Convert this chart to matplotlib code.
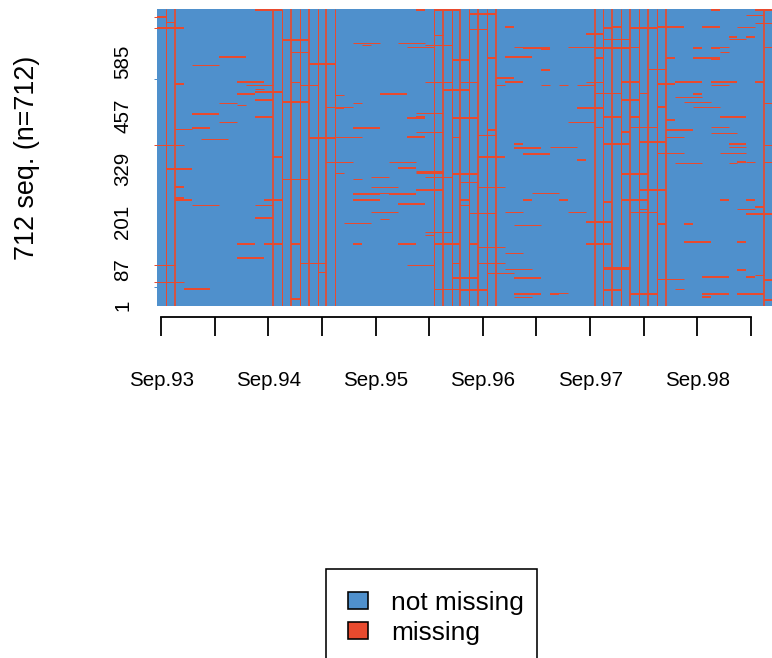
import matplotlib
matplotlib.use("Agg")
import matplotlib.pyplot as plt
from matplotlib.patches import Patch, Rectangle

plt.rcParams['font.family'] = ['Liberation Sans', 'DejaVu Sans']

n_seq = 712
y_tick_rows = [1, 87, 201, 329, 457, 585]
x_tick_months = [0.5, 6.5, 12.5, 18.5, 24.5, 30.5, 36.5, 42.5, 48.5, 54.5, 60.5, 66.5]
x_tick_labels = ['Sep.93', '', 'Sep.94', '', 'Sep.95', '', 'Sep.96', '', 'Sep.97', '', 'Sep.98', '']
state_labels = ['not missing', 'missing']
state_colors = ['#4F90CC', '#E84A2E']

# months missing for (nearly) every sequence
months_thin = [1, 14, 16, 18, 20, 31, 33, 35, 37, 50, 52, 54, 56]
months_thick = [2, 13, 15, 17, 19, 32, 34, 36, 38, 49, 51, 53, 55, 57, 68]

# (row, first month, last month) of missing spells
spells_thin = [
    (682,1,2),(649,31,32),(630,22,25),(630,27,30),(625,23,24),(625,30,33),(620,28,31),(610,15,17),
    (577,4,7),(538,15,16),(538,30,33),(538,34,36),(529,10,13),(529,16,18),(519,11,12),(505,20,21),
    (486,7,9),(486,22,23),(481,9,10),(476,19,22),(462,29,32),(442,7,9),(423,2,4),(418,29,32),
    (404,20,23),(404,33,34),(399,5,8),(385,0,3),(346,19,22),(346,26,29),
    (318,20,21),(308,24,26),(308,30,33),(303,14,17),(303,22,23),(298,34,36),(284,24,27),(270,24,26),
    (241,4,7),(241,11,13),(241,34,35),(226,24,27),(207,25,26),(198,21,24),(178,30,33),(169,30,31),
    (102,16,19),(102,33,34),(97,0,2),(97,28,31),(82,18,19),(58,0,3),(39,31,34),
    (697,66,68),(678,67,69),(668,65,67),(663,35,37),(639,50,53),(639,64,66),(620,40,42),(620,46,49),
    (620,53,54),(620,62,64),(620,68,69),(610,63,64),(567,55,57),(538,48,50),(529,38,39),(529,43,44),
    (529,45,46),(529,47,49),(529,62,64),(510,49,52),(510,54,55),(500,58,61),(490,59,62),(486,68,69),
    (476,60,63),(442,46,49),(428,49,50),(428,53,56),(428,62,64),(414,62,65),(409,36,38),(404,57,59),
    (385,68,69),(380,44,47),(380,64,66),(366,56,59),(366,63,66),(346,68,69),(344,66,67),(342,58,61),
    (342,64,65),(284,36,39),(270,42,45),(231,54,55),(231,65,67),(226,39,41),(226,46,48),(226,53,56),
    (222,35,38),(193,40,43),(140,36,39),(126,39,41),(102,36,39),(87,39,42),(78,37,40),(73,67,68),
    (63,56,59),(39,58,59),(30,44,46),(20,40,42),
]
spells_thick = [
    (709,11,14),(709,29,30),(709,31,34),(694,0,1),(666,0,3),(637,14,17),(598,7,10),(589,33,35),
    (579,17,20),(536,9,12),(531,2,3),(517,32,35),(512,11,14),(509,26,28),(507,9,11),(507,25,28),
    (493,11,13),(488,14,17),(474,20,21),(459,4,7),(454,11,13),(452,29,30),(450,28,30),(450,33,36),
    (426,4,6),(426,22,25),(406,28,30),(402,17,20),(358,13,14),(330,27,29),(327,1,4),
    (315,33,36),(315,52,55),(286,2,3),(277,29,32),(267,22,25),(267,26,29),(258,2,3),(253,2,4),
    (253,12,14),(253,22,25),(253,34,35),(243,27,30),(210,11,13),(147,9,11),(147,12,14),(147,15,16),
    (147,22,23),(147,27,29),(147,31,34),(114,9,12),(66,33,36),(41,3,6),(37,34,37),(17,15,16),
    (709,62,63),(709,67,69),(699,35,38),(670,39,40),(670,51,52),(670,56,59),(670,61,63),(666,50,51),
    (666,53,56),(651,48,50),(646,64,65),(646,66,67),(618,41,44),(618,49,53),(618,60,61),(618,62,63),
    (615,43,44),(598,39,42),(594,37,38),(594,49,50),(594,57,58),(594,60,63),(591,62,63),(565,43,44),
    (546,38,40),(536,39,41),(536,52,54),(536,58,61),(536,62,65),(536,67,68),(531,56,58),(507,60,61),
    (493,52,54),(478,56,57),(474,47,50),(454,50,52),(454,53,54),(454,63,66),(445,57,58),(421,37,38),
    (421,57,60),(416,52,53),(392,54,57),(387,40,41),(387,50,53),(387,64,66),(378,40,43),(363,41,44),
    (358,36,39),(349,47,48),(344,65,66),(277,54,57),(253,41,42),(253,45,46),(253,52,55),(253,63,64),
    (253,66,67),(248,50,51),(238,67,68),(219,66,69),(200,48,51),(195,56,57),(195,59,60),(152,59,62),
    (152,65,66),(147,35,36),(147,48,51),(85,65,66),(70,61,64),(70,66,67),(66,40,43),(61,68,69),
    (37,50,52),(27,40,43),(27,44,45),(27,53,56),(27,61,64),(27,65,68),(22,61,62),(13,68,69),
]
spells_widest = [(320,29,32),(90,50,53)]

# short overhangs left of the first month
overhang_missing_rows = [694, 666, 385, 97, 58]
overhang_other_rows = [543, 46]

W, H = 772, 658
PX = 72 / 100
fig = plt.figure(figsize=(W / 100, H / 100), dpi=100)
left, right, top, bottom = 156.7, 772, 9, 305.67
ax = fig.add_axes([left / W, 1 - bottom / H, (right - left) / W, (bottom - top) / H])
ax.set_facecolor(state_colors[0])
ax.set_xlim(0, (right - left) / 8.935)
ax.set_ylim(0, n_seq)

blue, red = state_colors
ax.vlines(months_thin, 0, n_seq, color=red, lw=1.0 * PX, snap=True)
ax.vlines(months_thick, 0, n_seq, color=red, lw=1.7 * PX, snap=True)
for spells, width in ((spells_thin, 1.0), (spells_thick, 2.0), (spells_widest, 3.0)):
    rows = [s[0] for s in spells]
    starts = [s[1] for s in spells]
    ends = [s[2] for s in spells]
    ax.hlines(rows, starts, ends, color=red, lw=width * PX, snap=True)
ax.hlines(overhang_missing_rows, -0.35, 0, color=red, lw=1.0 * PX, clip_on=False, snap=True)
ax.hlines(overhang_other_rows, -0.35, 0, color=blue, lw=1.0 * PX, clip_on=False, snap=True)

for s in ('top', 'right', 'left'):
    ax.spines[s].set_visible(False)
sp = ax.spines['bottom']
sp.set_position(('outward', 11.6 * PX))
sp.set_bounds(x_tick_months[0], x_tick_months[-1])
sp.set_linewidth(1.8 * PX)

ax.set_xticks(x_tick_months)
ax.set_xticklabels(x_tick_labels, fontsize=14.8)
ax.tick_params(axis='x', length=19.4 * PX, width=1.8 * PX, pad=34 * PX)
ax.set_yticks([r - 0.5 for r in y_tick_rows])
ax.set_yticklabels([str(r) for r in y_tick_rows], rotation=90, va='center', fontsize=14.8)
ax.tick_params(axis='y', length=0, pad=24.5 * PX)

fig.text(27 / W, 1 - 158 / H, '712 seq. (n=712)', rotation=90, fontsize=19.4,
         ha='center', va='center')

handles = [Patch(facecolor=c, edgecolor='black', linewidth=1.6 * PX) for c in state_colors]
fs = 18.9
em = fs / PX
leg = fig.legend(handles, state_labels, loc='upper left',
                 bbox_to_anchor=(325.7 / W, 1 - 569 / H), borderaxespad=0,
                 fontsize=fs, frameon=False,
                 borderpad=22 / em, handlelength=20 / em, handleheight=16.6 / em,
                 handletextpad=23.4 / em, labelspacing=6 / em)
fig.add_artist(Rectangle((325.7 / W, 1 - 661 / H), (537 - 325.7) / W, 92 / H,
                         transform=fig.transFigure, fill=False, edgecolor='black',
                         linewidth=1.6 * PX))

fig.savefig('out.png', dpi=100)
